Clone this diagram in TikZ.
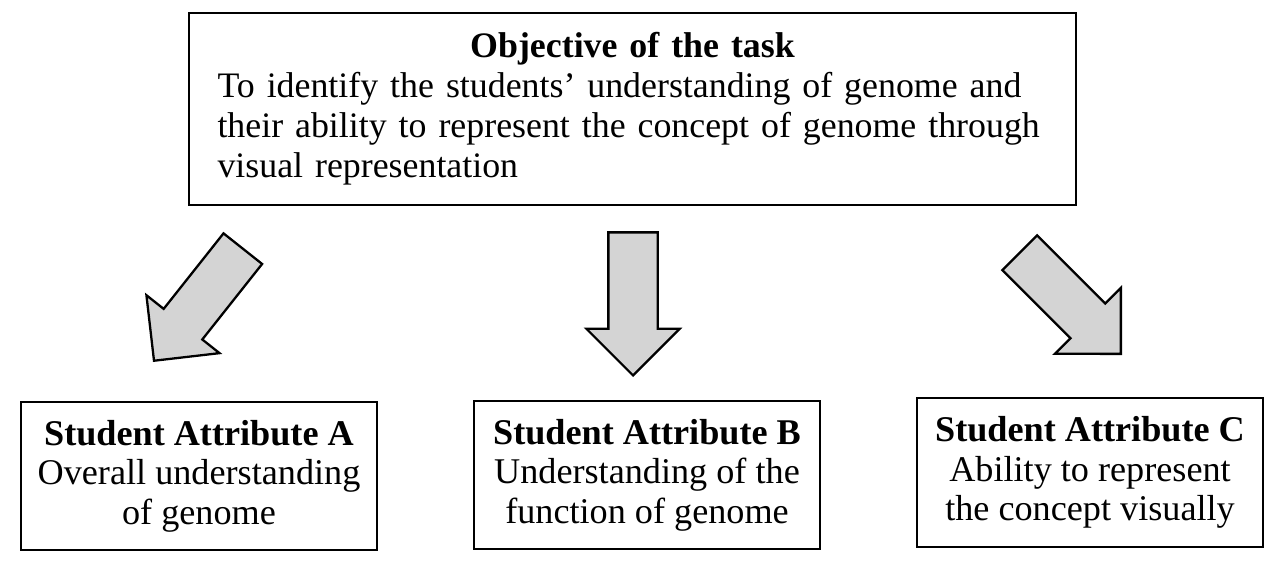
\documentclass[tikz,border=0pt]{standalone}
\usepackage{fontspec}
\setmainfont{Liberation Serif}
\usetikzlibrary{shapes.arrows}
\definecolor{arrowgray}{RGB}{212,212,212}

\begin{document}
\begin{tikzpicture}[
        box/.style={draw,line width=1.1pt,align=center,inner sep=0pt,
                    font=\fontsize{20.6}{22.5}\selectfont},
        bigarr/.style={single arrow,draw,line width=1.3pt,fill=arrowgray,
                    minimum height=2.86cm,inner xsep=0pt,inner ysep=0.47cm,
                    single arrow head extend=0.44cm,anchor=tip}]
        \useasboundingbox (0,0) rectangle (25.54,11.28);
        \node[box,minimum width=17.74cm,minimum height=3.84cm,text width=17.4cm,align=left,
              font=\fontsize{20.4}{22.7}\selectfont] (obj) at (12.65,9.1)
             {\centering\textbf{Objective of the task}\par
              \raggedright\leftskip=0.4cm To identify the students' understanding of genome and\\
              their ability to represent the concept of genome through\\
              visual representation\par};
        \node[box,minimum width=7.12cm,minimum height=2.96cm] (attA) at (3.98,1.76)
             {\textbf{Student Attribute A}\\Overall understanding\\of genome};
        \node[box,minimum width=6.92cm,minimum height=2.96cm] (attB) at (12.94,1.78)
             {\textbf{Student Attribute B}\\Understanding of the\\function of genome};
        \node[box,minimum width=6.92cm,minimum height=2.98cm] (attC) at (21.8,1.83)
             {\textbf{Student Attribute C}\\Ability to represent\\the concept visually};
        \node[bigarr,rotate=231.6] (arrA) at (3.06,4.04) {};
        \node[bigarr,rotate=-90] (arrB) at (12.66,3.74) {};
        \node[bigarr,rotate=-45] (arrC) at (22.44,4.18) {};
    \end{tikzpicture}
\end{document}
